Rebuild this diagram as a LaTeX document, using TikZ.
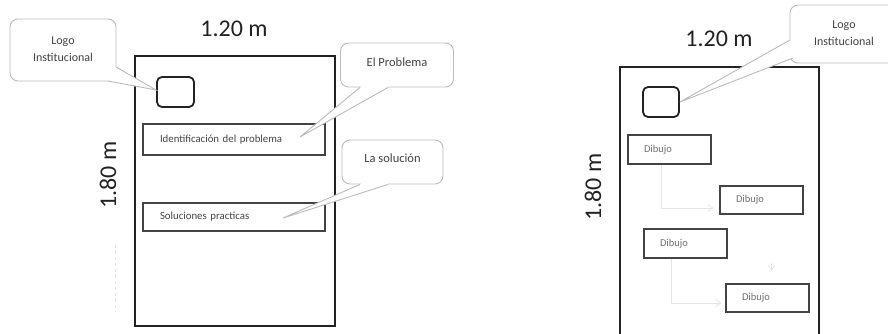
\documentclass[tikz,border=0pt]{standalone}
\usepackage{fontspec}
\setmainfont{Carlito}
\usetikzlibrary{calc,arrows.meta}
\definecolor{ink}{HTML}{222222}
\definecolor{callgray}{HTML}{BBBBBB}
\definecolor{faint}{HTML}{E4E4E4}
\tikzset{
  panel/.style={draw=ink, line width=1.8pt},
  logobox/.style={draw=ink, line width=1.8pt, rounded corners=5pt, inner sep=0pt},
  textbox/.style={draw=ink!85, line width=1.4pt, inner sep=0pt, text=ink!85,
    font=\fontsize{10.8}{12}\selectfont, align=left},
  dibbox/.style={draw=ink!85, line width=1.3pt, inner sep=0pt, minimum width=83pt,
    text width=51pt, text=ink!65, font=\fontsize{10.5}{12}\selectfont, align=left},
  callbox/.style={draw=callgray, line width=0.9pt, fill=white, rounded corners=8pt, inner sep=0pt},
  callline/.style={draw=callgray, line width=0.9pt},
  calltext/.style={text=ink!85, align=center},
  dimtext/.style={text=ink, font=\fontsize{24}{26}\selectfont},
  faintarrow/.style={draw=faint, line width=0.8pt, -{Straight Barb[length=5pt,width=7pt]}},
}
\begin{document}
\begin{tikzpicture}[x=1pt,y=-1pt]
\useasboundingbox (0,0) rectangle (888,334);

% ---------------- left panel ----------------
\draw[panel] (135,56) rectangle (335,326);
\node[logobox, minimum width=37pt, minimum height=30pt] (logoL) at (175.5,92) {};
\node[textbox, minimum width=182pt, minimum height=31pt, text width=148pt] (boxP) at (234,139.5) {Identificación del problema};
\node[textbox, minimum width=182pt, minimum height=28pt, text width=148pt] (boxS) at (234,217) {Soluciones practicas};

\draw[faint, dashed, line width=0.8pt] (115,245) -- (115,312);

\node[dimtext] (wL) at (234,29) {1.20 m};
\node[dimtext, rotate=90] (hL) at (108,175) {1.80 m};

% callout: Logo Institucional (left)
\node[callbox, minimum width=106pt, minimum height=62pt] (callL) at (63,50) {};
\coordinate (tipL) at ($(logoL.west)+(0,-2)$);
\coordinate (aL) at (116,67);
\coordinate (bL) at (108,81);
\fill[white] (aL) -- (tipL) -- (bL) -- ($(callL.center)+(30,10)$) -- cycle;
\draw[callline] (aL) -- (tipL) -- (bL);
\node[calltext, font=\fontsize{12}{17}\selectfont] (tL) at ($(callL.center)+(0,-1)$) {Logo\\Institucional};

% callout: El Problema
\node[callbox, minimum width=113pt, minimum height=44pt] (callP) at (397,65) {};
\coordinate (tipP) at (300,137);
\coordinate (aP) at ($(callP.south)+(-37,0)$);
\coordinate (bP) at ($(callP.south)+(-9,0)$);
\fill[white] (aP) -- (tipP) -- (bP) -- ($(callP.center)$) -- cycle;
\draw[callline] (aP) -- (tipP) -- (bP);
\node[calltext, font=\fontsize{12.5}{14}\selectfont] (tP) at ($(callP.center)+(0,-3)$) {El Problema};

% callout: La solución
\node[callbox, minimum width=101pt, minimum height=44pt] (callS) at (392.5,162) {};
\coordinate (tipS) at (283,218);
\coordinate (aS) at ($(callS.south)+(-32.5,0)$);
\coordinate (bS) at ($(callS.south)+(-4.5,0)$);
\fill[white] (aS) -- (tipS) -- (bS) -- ($(callS.center)$) -- cycle;
\draw[callline] (aS) -- (tipS) -- (bS);
\node[calltext, font=\fontsize{12.5}{14}\selectfont] (tS) at ($(callS.center)+(0,-4)$) {La solución};

% ---------------- right panel ----------------
\draw[panel] (620,340) -- (620,67) -- (819,67) -- (819,340);
\node[logobox, minimum width=36pt, minimum height=30pt] (logoR) at (661,102) {};
\node[dibbox, minimum height=29pt] (d1) at (669.5,149.5) {Dibujo};
\node[dibbox, minimum height=28pt] (d2) at (761.5,200) {Dibujo};
\node[dibbox, minimum height=29pt] (d3) at (685.5,243.5) {Dibujo};
\node[dibbox, minimum height=28pt] (d4) at (767.5,298) {Dibujo};

\draw[faintarrow] ($(d1.south west)+(34,0)$) |- ($(d2.west)+(-6,8)$);
\draw[faintarrow] ($(d3.south west)+(28,0)$) |- ($(d4.west)+(-4,5)$);
\draw[faintarrow] ($(d2.south)+(10,48)$) -- ($(d2.south)+(10,56)$);

\node[dimtext] (wR) at (719,39) {1.20 m};
\node[dimtext, rotate=90] (hR) at (593,187) {1.80 m};

% callout: Logo Institucional (right)
\node[callbox, minimum width=108pt, minimum height=58pt] (callR) at (844,34) {};
\coordinate (tipR) at (logoR.east);
\coordinate (aR) at (790,40);
\coordinate (bR) at (793,58);
\fill[white] (aR) -- (tipR) -- (bR) -- ($(callR.center)$) -- cycle;
\draw[callline] (aR) -- (tipR) -- (bR);
\node[calltext, font=\fontsize{12}{17}\selectfont] (tR) at ($(callR.center)+(0,-1)$) {Logo\\Institucional};
\end{tikzpicture}
\end{document}
